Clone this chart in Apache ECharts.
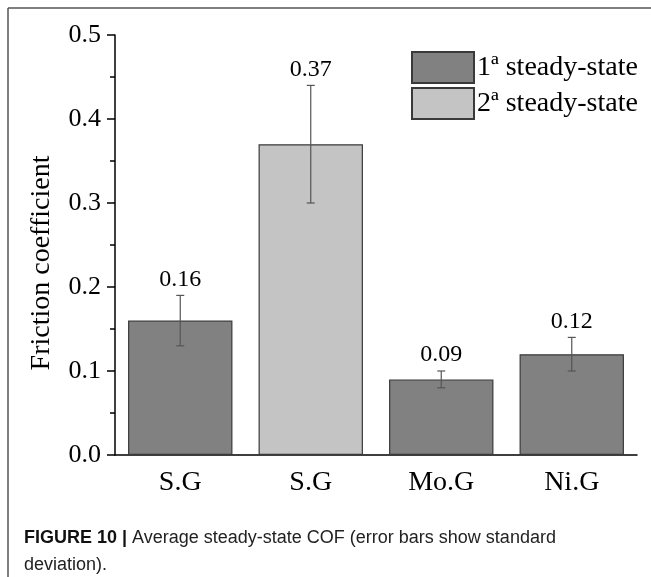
<!DOCTYPE html>
<html><head><meta charset="utf-8">
<script src="https://cdn.jsdelivr.net/npm/echarts@6/dist/echarts.min.js"></script>
<style>html,body{margin:0;padding:0;background:#fff}#c{width:651px;height:577px}</style>
</head><body><div id="c"></div>
<script>
var categories = ['S.G', 'S.G', 'Mo.G', 'Ni.G'];
var firstSteady = [0.16, '-', 0.09, 0.12];
var secondSteady = ['-', 0.37, '-', '-'];
var means = [0.16, 0.37, 0.09, 0.12];
var stdDev = [0.03, 0.07, 0.01, 0.02];
var valueLabels = ['0.16', '0.37', '0.09', '0.12'];
var yTicks = [0, 0.1, 0.2, 0.3, 0.4, 0.5];
var seriesNames = ['1ª steady-state', '2ª steady-state'];

var serif = '"Liberation Serif","Times New Roman",serif';
var errData = means.map(function (m, i) {
  return [i, m, +(m - stdDev[i]).toFixed(3), +(m + stdDev[i]).toFixed(3), valueLabels[i]];
});

var chart = echarts.init(document.getElementById('c'));
chart.setOption({
  animation: false,
  backgroundColor: '#fff',
  grid: { left: 115, right: 14, top: 35, bottom: 122 },
  legend: {
    orient: 'vertical', left: 411, top: 51, itemGap: 3, padding: 0,
    itemWidth: 62, itemHeight: 31, icon: 'rect',
    textStyle: { fontFamily: serif, fontSize: 28, color: '#000', padding: [0, 0, 0, -2] },
    data: seriesNames
  },
  xAxis: [{
    type: 'category', data: categories,
    axisLine: { lineStyle: { color: '#000', width: 1.5 } },
    axisTick: { alignWithLabel: true, length: 8, lineStyle: { color: '#000', width: 1.5 } },
    axisLabel: { fontFamily: serif, fontSize: 28, color: '#000', margin: 14 }
  }, {
    type: 'category', data: categories, position: 'bottom',
    axisLine: { show: false },
    axisTick: { length: 5, lineStyle: { color: '#000', width: 1.5 } },
    axisLabel: { show: false }
  }],
  yAxis: {
    type: 'value', min: 0, max: 0.5, interval: 0.1,
    name: 'Friction coefficient', nameLocation: 'middle', nameGap: 59,
    nameTextStyle: { fontFamily: serif, fontSize: 28, color: '#000', padding: [0, 36, 0, 0] },
    axisLine: { show: true, lineStyle: { color: '#000', width: 1.5 } },
    axisTick: { show: true, length: 8, lineStyle: { color: '#000', width: 1.5 } },
    minorTick: { show: true, splitNumber: 2, length: 5, lineStyle: { color: '#000', width: 1.5 } },
    splitLine: { show: false },
    axisLabel: { fontFamily: serif, fontSize: 26, color: '#000', margin: 14,
      formatter: function (v) { return v.toFixed(1); } }
  },
  graphic: [
    { type: 'line', shape: { x1: 8, y1: 8, x2: 651, y2: 8 }, style: { stroke: '#555', lineWidth: 1.5 } },
    { type: 'line', shape: { x1: 8, y1: 8, x2: 8, y2: 577 }, style: { stroke: '#555', lineWidth: 1.5 } },
    { type: 'text', left: 24, top: 525, style: {
      text: '{b|FIGURE 10 |} Average steady-state COF (error bars show standard\ndeviation).',
      font: '18px "Liberation Sans",Arial,sans-serif', fill: '#222', lineHeight: 27,
      rich: { b: { fontWeight: 'bold', fontSize: 18, fontFamily: '"Liberation Sans",Arial,sans-serif', fill: '#111', lineHeight: 27 } }
    } }
  ],
  series: [{
    name: seriesNames[0], type: 'bar', data: firstSteady, barWidth: '80%', barGap: '-100%',
    itemStyle: { color: '#818181', borderColor: '#3a3a3a', borderWidth: 1.2 }
  }, {
    name: seriesNames[1], type: 'bar', data: secondSteady, barWidth: '80%', barGap: '-100%',
    itemStyle: { color: '#c4c4c4', borderColor: '#3a3a3a', borderWidth: 1.2 }
  }, {
    type: 'custom', data: errData, z: 10,
    encode: { x: 0, y: [2, 3] },
    renderItem: function (params, api) {
      var x = api.value(0);
      var lo = api.coord([x, api.value(2)]);
      var hi = api.coord([x, api.value(3)]);
      var cw = 4;
      var st = { stroke: '#555', lineWidth: 1.2 };
      return { type: 'group', children: [
        { type: 'line', shape: { x1: hi[0], y1: hi[1], x2: lo[0], y2: lo[1] }, style: st },
        { type: 'line', shape: { x1: hi[0] - cw, y1: hi[1], x2: hi[0] + cw, y2: hi[1] }, style: st },
        { type: 'line', shape: { x1: lo[0] - cw, y1: lo[1], x2: lo[0] + cw, y2: lo[1] }, style: st },
        { type: 'text', style: { text: errData[params.dataIndex][4], x: hi[0], y: hi[1] - 4,
          textAlign: 'center', textVerticalAlign: 'bottom', font: '24px ' + serif, fill: '#000' } }
      ] };
    }
  }]
});
</script></body></html>
